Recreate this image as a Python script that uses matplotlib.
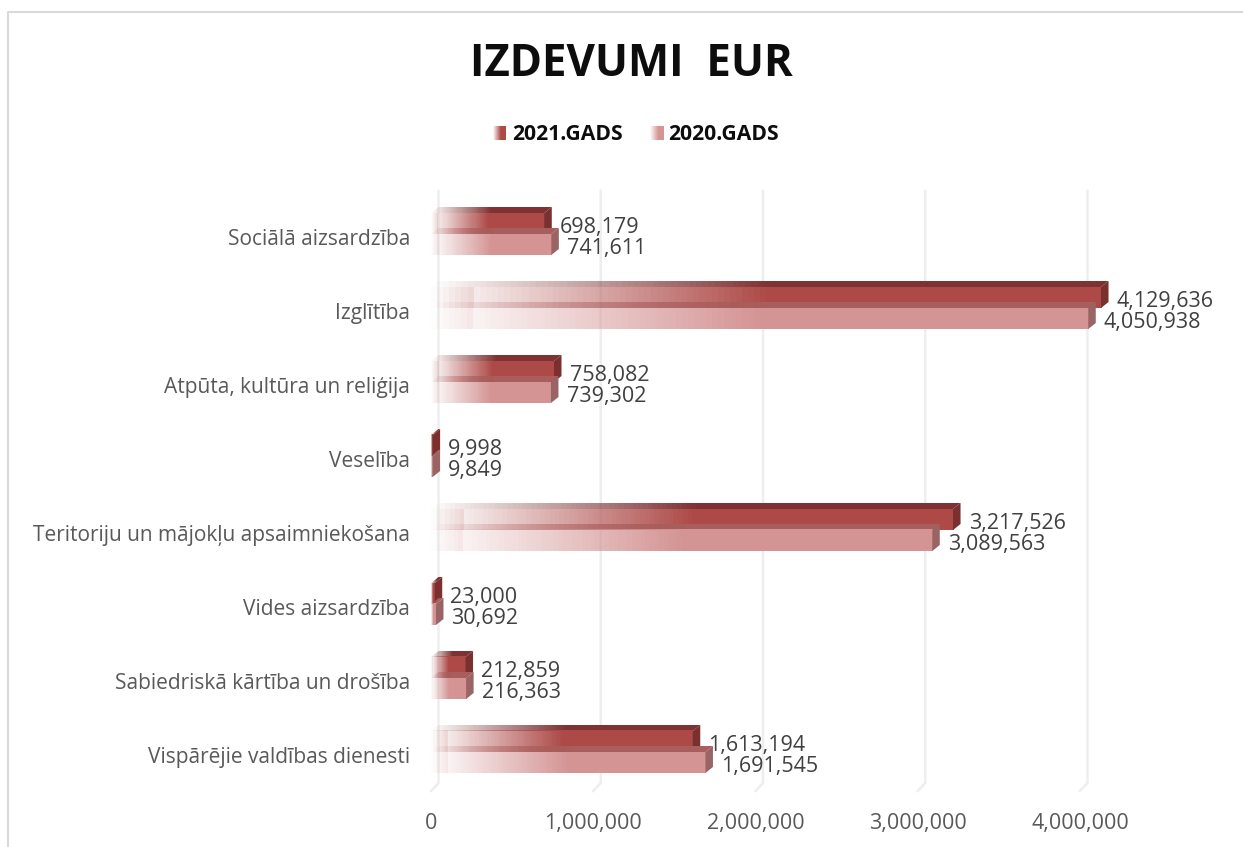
import numpy as np
import matplotlib
matplotlib.use("Agg")
import matplotlib.pyplot as plt
from matplotlib.colors import to_rgb
from matplotlib.lines import Line2D
from matplotlib.patches import Polygon
from matplotlib.transforms import ScaledTranslation

categories = ["Sociālā aizsardzība", "Izglītība", "Atpūta, kultūra un reliģija", "Veselība",
              "Teritoriju un mājokļu apsaimniekošana", "Vides aizsardzība",
              "Sabiedriskā kārtība un drošība", "Vispārējie valdības dienesti"]
values_2021 = [698179, 4129636, 758082, 9998, 3217526, 23000, 212859, 1613194]
values_2020 = [741611, 4050938, 739302, 9849, 3089563, 30692, 216363, 1691545]
xticks = [0, 1000000, 2000000, 3000000, 4000000]
title = "IZDEVUMI  EUR"
series_names = ["2021.GADS", "2020.GADS"]

plt.rcParams["font.family"] = ["Open Sans", "DejaVu Sans"]
W, H = 1243, 847
fig = plt.figure(figsize=(W / 100, H / 100), dpi=100, facecolor="white")

# layout, in pixels of the picture
X0, PX_PER_UNIT = 431, 162.25 / 1e6
TOP, FLOOR, ROW, FIRST = 191, 791, 74, 234
ax = fig.add_axes([X0 / W, 1 - FLOOR / H, (W - X0) / W, (FLOOR - TOP) / H])
xlim = (0, (W - X0) / PX_PER_UNIT)
ylim = ((FLOOR - FIRST) / ROW, (TOP - FIRST) / ROW)
dx = 7.5 / PX_PER_UNIT
dy = 6 / ROW
bar_h = 21 / ROW


def gradient(color, stops, alphas, n=110):
    t = (np.arange(n) + 0.5) / n
    img = np.zeros((1, n, 4))
    img[..., :3] = to_rgb(color)
    img[..., 3] = np.interp(t, stops, alphas)
    return img


FRONT = ([0, 0.06, 0.0601, 0.5, 1], [0.0, 0.22, 0.1, 1, 1])
TOPF = ([0, 0.5, 1], [0, 1, 1])

# wall grid lines with their short floor step
for v in xticks:
    ax.plot([v + dx, v + dx, v], [ylim[1], ylim[0] - 8 / ROW, ylim[0]],
            color="#eeeeee", lw=1.8, clip_on=False, zorder=1, solid_joinstyle="miter")


def bar3d(i, v, y0, y1, front, top, side, z):
    im = ax.imshow(gradient(top, *TOPF), extent=(0, v + dx, y0, y0 - dy), aspect="auto",
                   interpolation="nearest", zorder=z)
    poly = Polygon([(0, y0), (dx, y0 - dy), (v + dx, y0 - dy), (v, y0)], transform=ax.transData,
                   fc="none", ec="none")
    ax.add_patch(poly)
    im.set_clip_path(poly)
    ax.imshow(gradient(front, *FRONT), extent=(0, v, y1, y0), aspect="auto",
              interpolation="nearest", zorder=z + 0.1)
    ax.add_patch(Polygon([(v, y0), (v + dx, y0 - dy), (v + dx, y1 - dy), (v, y1)],
                         fc=side, ec="none", zorder=z + 0.2))


for i, (a, b) in enumerate(zip(values_2021, values_2020)):
    bar3d(i, a, i - bar_h, i, "#AD4A48", "#7E3231", "#7A302F", 3)
    bar3d(i, b, i, i + bar_h, "#D49494", "#A85E5C", "#9A6464", 4)
    for v, yc in ((a, i - bar_h / 2), (b, i + bar_h / 2)):
        ax.annotate(f"{v:,}", (v + dx, yc), xytext=(5.8, -3.2), textcoords="offset points",
                    ha="left", va="center", fontsize=15.5, color="#404040", zorder=6,
                    annotation_clip=False)

ax.set_xlim(*xlim)
ax.set_ylim(*ylim)
ax.patch.set_alpha(0)
for s in ax.spines.values():
    s.set_visible(False)
ax.set_xticks(xticks, [f"{v:,}" for v in xticks])
ax.set_yticks(range(len(categories)), categories)
ax.tick_params(axis="both", length=0)
ax.tick_params(axis="x", labelsize=15.5, labelcolor="#595959", pad=15.5)
ax.tick_params(axis="y", labelsize=15.0, labelcolor="#595959", pad=15)
shift = ScaledTranslation(0, -5 / 100, fig.dpi_scale_trans)
for lab in ax.get_yticklabels():
    lab.set_verticalalignment("center")
    lab.set_transform(lab.get_transform() + shift)

fig.text(631 / W, 1 - 65 / H, title, ha="center", va="center", fontsize=31.5, fontweight="bold", color="#0d0d0d")

# legend
for (name, col, sx, tx) in zip(series_names, ["#AD4A48", "#D49494"], [493, 650], [512, 668]):
    sw = fig.add_axes([sx / W, 1 - 140 / H, 13 / W, 14 / H])
    sw.imshow(gradient(col, [0, 0.6, 1], [0, 1, 1], n=13), aspect="auto", interpolation="bilinear")
    sw.axis("off")
    fig.text(tx / W, 1 - 134 / H, name, ha="left", va="center", fontsize=15.2, fontweight="bold", color="#0d0d0d")

# chart frame, open at right and bottom
fig.add_artist(Line2D([8 / W, 8 / W, 1], [0, 1 - 12 / H, 1 - 12 / H], color="#d9d9d9", lw=1.5,
                      transform=fig.transFigure))

fig.savefig("out.png", dpi=100)
